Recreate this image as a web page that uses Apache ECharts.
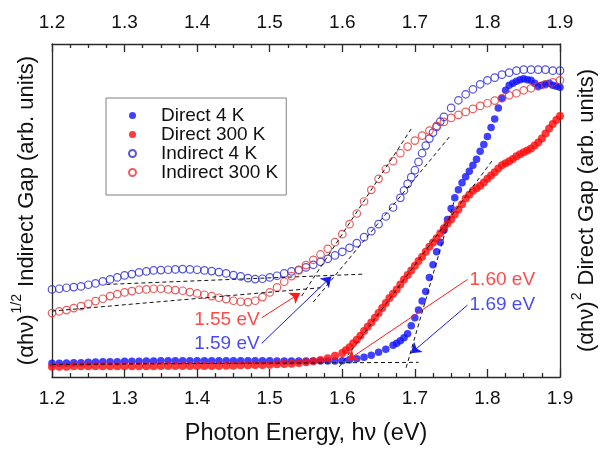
<!DOCTYPE html>
<html><head><meta charset="utf-8">
<script src="https://cdn.jsdelivr.net/npm/echarts@6/dist/echarts.min.js"></script>
<style>html,body{margin:0;padding:0;background:#fff}#c{width:606px;height:451px}</style>
</head><body><div id="c"></div>
<script>
// ---- data (photon energy in eV, signal in arbitrary units 0-100) ----
const seriesNames = ['Direct 4 K', 'Direct 300 K', 'Indirect 4 K', 'Indirect 300 K'];

const direct4K = [[1.20,4.1],[1.21,4.1],[1.22,4.2],[1.23,4.3],[1.24,4.3],[1.25,4.4],[1.26,4.5],[1.27,4.6],[1.28,4.6],[1.29,4.6],[1.30,4.7],[1.31,4.7],[1.32,4.7],[1.33,4.8],[1.34,4.8],[1.35,4.9],[1.36,4.9],[1.37,4.9],[1.38,4.9],[1.39,4.9],[1.40,4.9],[1.41,4.9],[1.42,4.9],[1.43,4.9],[1.44,4.9],[1.45,4.9],[1.46,4.9],[1.47,4.9],[1.48,4.9],[1.49,4.9],[1.50,4.9],[1.51,4.8],[1.52,4.8],[1.53,4.8],[1.54,4.8],[1.55,4.8],[1.56,4.8],[1.57,4.8],[1.58,4.8],[1.59,4.8],[1.60,4.9],[1.61,5.2],[1.62,5.5],[1.63,5.9],[1.64,6.5],[1.65,7.4],[1.66,8.3],[1.67,9.5],[1.675,10.1],[1.68,10.9],[1.685,11.8],[1.69,13.0],[1.695,15.4],[1.70,17.8],[1.705,20.1],[1.71,22.8],[1.715,25.7],[1.72,29.9],[1.725,33.7],[1.73,37.6],[1.735,40.5],[1.74,44.1],[1.745,47.3],[1.75,50.6],[1.755,53.8],[1.76,56.2],[1.765,58.3],[1.77,60.1],[1.775,61.8],[1.78,63.6],[1.785,65.4],[1.79,67.8],[1.795,69.8],[1.80,72.2],[1.805,74.9],[1.81,77.5],[1.815,80.8],[1.82,83.7],[1.825,86.1],[1.83,87.6],[1.835,88.2],[1.84,88.8],[1.845,89.3],[1.85,89.6],[1.855,89.3],[1.86,89.1],[1.865,88.2],[1.87,87.3],[1.875,87.6],[1.88,87.9],[1.885,88.2],[1.89,87.6],[1.895,87.3],[1.90,87.0]];

const direct300K = [[1.20,3.1],[1.21,3.1],[1.22,3.1],[1.23,3.2],[1.24,3.2],[1.25,3.2],[1.26,3.2],[1.27,3.2],[1.28,3.2],[1.29,3.2],[1.30,3.2],[1.31,3.2],[1.32,3.2],[1.33,3.2],[1.34,3.2],[1.35,3.3],[1.36,3.3],[1.37,3.3],[1.38,3.3],[1.39,3.3],[1.40,3.3],[1.41,3.3],[1.42,3.3],[1.43,3.3],[1.44,3.4],[1.45,3.4],[1.46,3.5],[1.47,3.5],[1.48,3.6],[1.49,3.6],[1.50,3.7],[1.51,3.8],[1.52,3.9],[1.53,4.0],[1.54,4.2],[1.55,4.4],[1.56,4.7],[1.57,5.1],[1.58,5.6],[1.59,6.4],[1.60,7.2],[1.605,8.0],[1.61,8.9],[1.615,10.1],[1.62,11.2],[1.625,12.4],[1.63,13.8],[1.635,15.1],[1.64,16.4],[1.645,17.8],[1.65,19.2],[1.655,20.7],[1.66,22.2],[1.665,23.7],[1.67,25.0],[1.675,26.3],[1.68,27.8],[1.685,29.3],[1.69,30.6],[1.695,32.0],[1.70,33.4],[1.705,34.8],[1.71,36.1],[1.715,37.6],[1.72,39.1],[1.725,40.4],[1.73,41.7],[1.735,43.2],[1.74,44.7],[1.745,46.0],[1.75,47.3],[1.755,48.8],[1.76,50.3],[1.765,51.9],[1.77,53.6],[1.775,54.7],[1.78,55.9],[1.785,56.7],[1.79,57.4],[1.795,58.4],[1.80,59.5],[1.805,60.5],[1.81,61.5],[1.815,62.6],[1.82,63.6],[1.825,64.2],[1.83,64.8],[1.835,65.5],[1.84,66.3],[1.845,66.9],[1.85,67.5],[1.855,68.0],[1.86,68.6],[1.865,69.5],[1.87,70.4],[1.875,71.6],[1.88,73.1],[1.885,74.6],[1.89,76.0],[1.895,77.2],[1.90,78.4]];

const indirect4K = [[1.20,26.3],[1.21,26.5],[1.22,26.8],[1.23,27.0],[1.24,27.2],[1.25,27.7],[1.26,28.1],[1.27,28.7],[1.28,29.3],[1.29,29.9],[1.30,30.5],[1.31,30.9],[1.32,31.4],[1.33,31.7],[1.34,32.0],[1.35,32.1],[1.36,32.2],[1.37,32.3],[1.38,32.4],[1.39,32.3],[1.40,32.2],[1.41,32.0],[1.42,31.8],[1.43,31.5],[1.44,31.1],[1.45,30.6],[1.46,30.2],[1.47,29.7],[1.48,29.4],[1.49,29.5],[1.50,29.9],[1.51,30.4],[1.52,31.1],[1.53,31.7],[1.54,32.2],[1.55,32.9],[1.56,33.7],[1.57,34.6],[1.58,35.5],[1.59,36.5],[1.60,37.6],[1.61,38.8],[1.62,40.2],[1.63,42.0],[1.64,43.8],[1.65,45.9],[1.66,48.2],[1.67,50.9],[1.68,53.8],[1.685,56.0],[1.69,58.0],[1.695,60.0],[1.70,62.1],[1.705,64.6],[1.71,67.2],[1.715,69.5],[1.72,71.6],[1.725,73.4],[1.73,75.1],[1.735,76.7],[1.74,78.1],[1.75,80.8],[1.76,83.1],[1.77,84.9],[1.78,86.4],[1.79,87.9],[1.80,89.1],[1.81,89.9],[1.82,90.8],[1.83,91.4],[1.84,92.0],[1.85,92.3],[1.86,92.3],[1.87,92.3],[1.88,92.3],[1.89,92.0],[1.90,92.0]];

const indirect300K = [[1.20,19.2],[1.21,19.7],[1.22,20.1],[1.23,20.7],[1.24,21.3],[1.25,22.0],[1.26,22.8],[1.27,23.5],[1.28,24.3],[1.29,24.9],[1.30,25.4],[1.31,25.8],[1.32,26.2],[1.33,26.3],[1.34,26.5],[1.35,26.5],[1.36,26.3],[1.37,26.1],[1.38,25.9],[1.39,25.5],[1.40,25.1],[1.41,24.7],[1.42,24.3],[1.43,23.8],[1.44,23.4],[1.45,22.9],[1.46,22.6],[1.47,22.5],[1.48,22.9],[1.49,24.0],[1.50,25.4],[1.51,26.9],[1.52,28.6],[1.53,30.3],[1.54,32.0],[1.55,33.6],[1.56,35.2],[1.57,36.8],[1.58,38.5],[1.59,40.5],[1.60,42.9],[1.61,45.9],[1.62,49.1],[1.63,52.7],[1.64,56.2],[1.65,59.5],[1.66,62.4],[1.67,64.8],[1.68,67.2],[1.69,69.2],[1.70,71.0],[1.71,72.5],[1.72,74.0],[1.73,75.4],[1.74,76.6],[1.75,77.8],[1.76,78.7],[1.77,79.6],[1.78,80.5],[1.79,81.4],[1.80,82.2],[1.81,83.0],[1.82,83.7],[1.83,84.6],[1.84,85.2],[1.85,86.1],[1.86,86.7],[1.87,87.3],[1.88,87.9],[1.89,88.5],[1.90,89.1]];

// tangent / baseline construction lines (dashed)
const fitLines = [
  [[1.20,3.8],[1.705,4.4]],      // direct baseline
  [[1.596,3.1],[1.807,65.1]],    // direct 300 K slope
  [[1.688,2.8],[1.754,52.7]],    // direct 4 K slope
  [[1.20,19.8],[1.57,26.8]],     // indirect 300 K baseline
  [[1.544,24.3],[1.695,74.5]],   // indirect 300 K slope
  [[1.275,27.8],[1.63,30.9]],    // indirect 4 K baseline
  [[1.56,22.5],[1.748,72.2]]     // indirect 4 K slope
];

// gap annotations
const gapLabels = ['1.55 eV', '1.59 eV', '1.60 eV', '1.69 eV'];
const gapLabelPos = [[1.441,17.3],[1.441,10.1],[1.8205,29.3],[1.8205,21.6]];
const gapArrowFrom = [[1.489,17.8],[1.489,10.1],[1.7726,29.3],[1.7726,21.6]];
const gapArrowTo = [[1.542,25.2],[1.585,30.2],[1.607,5.0],[1.6945,7.1]];
const gapColors = ['#ff1a1a', '#1a1aee', '#ff1a1a', '#1a1aee'];

// ---- chart ----
const font = "'Liberation Sans', Arial, Helvetica, sans-serif";
const frame = {color: '#2a2a2a', width: 1.3};
const chart = echarts.init(document.getElementById('c'));

function xAxisDef(pos, extra) {
  return Object.assign({
    type: 'value', position: pos, min: 1.2, max: 1.9, interval: 0.1,
    axisLine: {show: true, onZero: false, lineStyle: frame},
    axisTick: {show: true, inside: true, length: 8, lineStyle: frame},
    minorTick: {show: true, splitNumber: 4, length: 4, lineStyle: frame},
    axisLabel: {fontSize: 19, color: '#111', margin: 12, formatter: v => v.toFixed(1)},
    splitLine: {show: false}, minorSplitLine: {show: false}
  }, extra || {});
}
function yAxisDef(pos, name, gap) {
  return {
    type: 'value', position: pos, min: 0, max: 100,
    axisLine: {show: true, onZero: false, lineStyle: frame},
    axisTick: {show: false}, axisLabel: {show: false}, splitLine: {show: false},
    name: name, nameLocation: 'middle', nameRotate: 90, nameGap: gap,
    nameTextStyle: {rich: {
      a: {fontSize: 22, lineHeight: 28, color: '#111', fontFamily: font, verticalAlign: 'bottom'},
      s: {fontSize: 14, lineHeight: 14, color: '#111', fontFamily: font, verticalAlign: 'top', padding: [0, 1, 0, 1]}
    }}
  };
}

const scatterBase = {type: 'scatter', symbol: 'circle', silent: true, xAxisIndex: 0};

const series = [
  Object.assign({}, scatterBase, {name: seriesNames[0], data: direct4K, yAxisIndex: 1, symbolSize: 7.5,
    itemStyle: {color: '#1010ff'}}),
  Object.assign({}, scatterBase, {name: seriesNames[1], data: direct300K, yAxisIndex: 1, symbolSize: 8,
    itemStyle: {color: '#ff0a0a'}}),
  Object.assign({}, scatterBase, {name: seriesNames[2], data: indirect4K, yAxisIndex: 0, symbolSize: 7.5,
    itemStyle: {color: 'rgba(255,255,255,0)', borderColor: '#2b2bd8', borderWidth: 1.2}}),
  Object.assign({}, scatterBase, {name: seriesNames[3], data: indirect300K, yAxisIndex: 0, symbolSize: 7.5,
    itemStyle: {color: 'rgba(255,255,255,0)', borderColor: '#e23a3a', borderWidth: 1.2}})
];

fitLines.forEach((seg, i) => {
  series.push({
    type: 'line', name: 'fit' + i, data: seg, xAxisIndex: 0, yAxisIndex: 0,
    symbol: 'none', showSymbol: false, silent: true, z: 5,
    lineStyle: {color: '#111', width: 1, type: [4, 3]}
  });
});

series.push({
  type: 'scatter', name: 'gaps', xAxisIndex: 0, yAxisIndex: 0, symbolSize: 0, silent: true, z: 6,
  data: gapLabels.map((t, i) => ({
    value: gapLabelPos[i],
    label: {show: true, position: 'inside', formatter: t, color: gapColors[i], fontSize: 19, fontFamily: font}
  })),
  markLine: {
    silent: true, animation: false, symbol: ['none', 'arrow'], symbolSize: 10,
    label: {show: false},
    data: gapArrowFrom.map((f, i) => [
      {coord: f, lineStyle: {color: gapColors[i], width: 1, type: 'solid'}, itemStyle: {color: gapColors[i]}},
      {coord: gapArrowTo[i], lineStyle: {color: gapColors[i], width: 1, type: 'solid'}, itemStyle: {color: gapColors[i]}}
    ])
  }
});

chart.setOption({
  animation: false,
  backgroundColor: '#fff',
  textStyle: {fontFamily: font},
  grid: {left: 52, right: 43, top: 44, bottom: 69},
  xAxis: [
    xAxisDef('bottom', {name: 'Photon Energy, h\u03bd (eV)', nameLocation: 'middle', nameGap: 45,
      nameTextStyle: {fontSize: 23.5, color: '#111', fontFamily: font}}),
    xAxisDef('top')
  ],
  yAxis: [
    yAxisDef('left', '{a|(\u03b1h\u03bd)}{s|1/2}{a| Indirect Gap (arb. units)}', 14),
    yAxisDef('right', '{a|(\u03b1h\u03bd)}{s|2}{a| Direct Gap (arb. units)}', 10)
  ],
  legend: {
    orient: 'vertical', left: 106, top: 98, padding: [8, 8, 13, 22], itemGap: 0,
    itemWidth: 7, itemHeight: 7, selectedMode: false,
    backgroundColor: '#fff', borderColor: '#808080', borderWidth: 1,
    textStyle: {fontSize: 19, color: '#111', lineHeight: 18.7, padding: [0, 0, 0, 20], fontFamily: font},
    data: seriesNames
  },
  series: series
});
</script>
</body></html>
